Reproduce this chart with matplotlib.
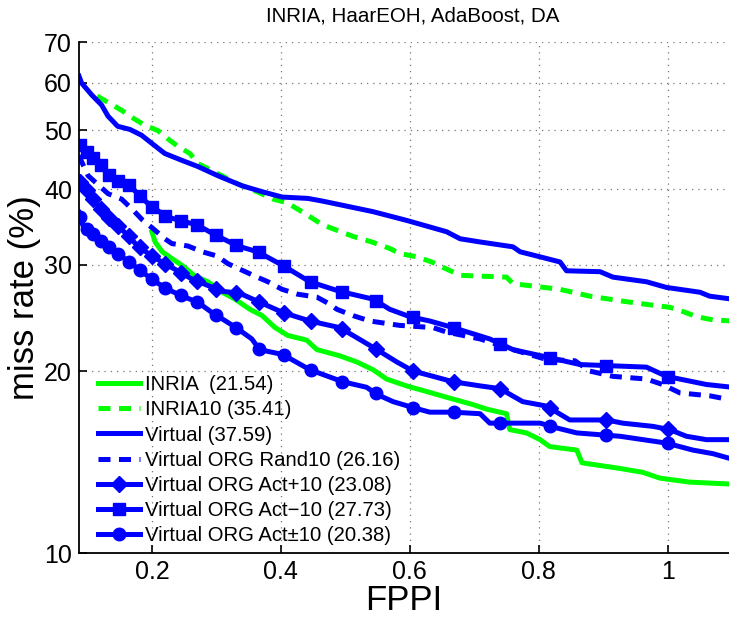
import numpy as np
import matplotlib.pyplot as plt
from matplotlib.lines import Line2D
from matplotlib.ticker import NullLocator

# miss rate (%) vs FPPI
inria_fppi = [0.2, 0.205, 0.216, 0.231, 0.247, 0.267, 0.287, 0.309, 0.329, 0.352, 0.371, 0.391,
              0.411, 0.44, 0.456, 0.491, 0.518, 0.543, 0.564, 0.595, 0.626, 0.657, 0.698, 0.719,
              0.75, 0.755, 0.781, 0.802, 0.817, 0.859, 0.867, 0.926, 0.961, 0.988, 1.034, 1.1]
inria_mr = [34.0, 32.7, 31.5, 30.7, 29.9, 28.7, 28.1, 27.0, 26.3, 25.3, 24.7, 23.6,
            22.9, 22.5, 21.7, 21.2, 20.7, 20.1, 19.4, 18.9, 18.5, 18.1, 17.6, 17.3,
            17.0, 16.0, 15.8, 15.4, 15.0, 14.8, 14.1, 13.8, 13.6, 13.3, 13.1, 13.0]

inria10_fppi = [0.115, 0.153, 0.171, 0.189, 0.209, 0.224, 0.24, 0.259, 0.271, 0.293, 0.31, 0.333,
                0.363, 0.388, 0.409, 0.429, 0.465, 0.512, 0.541, 0.569, 0.584, 0.611, 0.634, 0.651,
                0.678, 0.75, 0.76, 0.833, 0.879, 0.93, 0.977, 1.003, 1.023, 1.045, 1.07, 1.1]
inria10_mr = [57.0, 54.0, 52.4, 51.0, 50.0, 48.5, 47.1, 45.8, 44.1, 42.9, 42.0, 40.8,
              39.6, 38.5, 38.0, 36.9, 34.9, 33.4, 32.7, 31.9, 31.3, 30.9, 30.3, 29.7,
              28.8, 28.6, 27.9, 27.3, 26.6, 26.1, 25.7, 25.5, 25.1, 24.6, 24.3, 24.2]

virtual_fppi = [0.087, 0.091, 0.107, 0.122, 0.132, 0.147, 0.166, 0.184, 0.2, 0.22, 0.247, 0.271,
                0.302, 0.34, 0.371, 0.402, 0.442, 0.465, 0.543, 0.595, 0.657, 0.678, 0.709, 0.76,
                0.771, 0.802, 0.833, 0.843, 0.895, 0.915, 0.967, 0.998, 1.05, 1.065, 1.1]
virtual_mr = [61.5, 59.9, 57.2, 55.1, 52.8, 50.8, 50.2, 49.1, 47.6, 45.8, 44.6, 43.6,
              42.1, 40.5, 39.6, 38.8, 38.6, 38.2, 36.7, 35.5, 34.0, 33.1, 32.7, 32.1,
              31.5, 30.9, 30.3, 29.3, 29.2, 28.6, 28.1, 27.5, 27.0, 26.6, 26.3]

rand10_fppi = [0.087, 0.091, 0.101, 0.132, 0.153, 0.171, 0.186, 0.202, 0.22, 0.231, 0.256, 0.278,
               0.301, 0.318, 0.36, 0.38, 0.402, 0.426, 0.456, 0.476, 0.487, 0.512, 0.538, 0.584,
               0.636, 0.657, 0.709, 0.76, 0.812, 0.856, 0.879, 0.915, 0.967, 0.992, 1.019, 1.065, 1.1]
rand10_mr = [45.5, 44.4, 42.1, 39.3, 38.5, 36.9, 35.5, 34.4, 33.1, 32.5, 32.2, 31.5,
             31.0, 30.1, 28.7, 28.1, 27.3, 26.8, 26.5, 25.8, 25.3, 24.7, 24.2, 23.8,
             23.6, 23.2, 22.6, 21.7, 20.9, 20.8, 20.0, 19.6, 19.4, 19.0, 18.4, 18.2, 17.9]

actp_fppi = [0.087, 0.091, 0.101, 0.116, 0.132, 0.147, 0.163, 0.178, 0.2, 0.22, 0.24, 0.262,
             0.287, 0.309, 0.336, 0.367, 0.403, 0.445, 0.491, 0.512, 0.549, 0.58, 0.605, 0.636,
             0.667, 0.709, 0.74, 0.775, 0.812, 0.848, 0.905, 0.93, 0.977, 1.003, 1.029, 1.06, 1.1]
actp_mr = [41.5, 40.8, 39.6, 37.6, 36.0, 34.8, 33.5, 32.2, 31.0, 30.1, 29.3, 28.4,
           27.7, 27.1, 26.9, 26.0, 25.0, 24.2, 23.6, 22.9, 21.7, 20.7, 20.0, 19.6,
           19.2, 18.9, 18.7, 17.8, 17.5, 16.6, 16.6, 16.4, 16.2, 16.0, 15.6, 15.4, 15.4]

actm_fppi = [0.087, 0.091, 0.104, 0.122, 0.135, 0.147, 0.166, 0.181, 0.197, 0.223, 0.243, 0.27,
             0.298, 0.333, 0.364, 0.403, 0.445, 0.491, 0.543, 0.569, 0.6, 0.631, 0.667, 0.724,
             0.76, 0.812, 0.864, 0.915, 0.967, 0.998, 1.06, 1.1]
actm_mr = [47.5, 47.1, 45.5, 43.8, 42.1, 41.3, 40.5, 39.0, 37.6, 36.0, 35.5, 34.9,
           33.6, 32.2, 31.5, 29.9, 28.1, 27.1, 26.3, 25.3, 24.6, 24.2, 23.6, 22.6,
           21.7, 21.1, 20.5, 20.4, 20.3, 19.6, 19.0, 18.8]

actpm_fppi = [0.087, 0.093, 0.104, 0.124, 0.143, 0.163, 0.181, 0.205, 0.231, 0.251, 0.271, 0.293,
              0.309, 0.333, 0.355, 0.367, 0.403, 0.445, 0.496, 0.533, 0.549, 0.574, 0.605, 0.631,
              0.667, 0.709, 0.724, 0.802, 0.828, 0.859, 0.926, 0.998, 1.039, 1.07, 1.1]
actpm_mr = [36.6, 34.8, 34.0, 32.6, 31.5, 30.4, 29.4, 28.1, 27.1, 26.5, 26.0, 25.0,
            24.4, 23.5, 22.6, 21.7, 21.3, 20.1, 19.2, 18.8, 18.3, 17.8, 17.4, 17.1,
            17.1, 17.0, 16.4, 16.4, 16.1, 15.8, 15.6, 15.2, 14.8, 14.6, 14.3]

# FPPI values where the curve markers sit
marker_fppi = [0.089, 0.099, 0.109, 0.121, 0.134, 0.148, 0.164, 0.181, 0.2, 0.221, 0.245, 0.27,
               0.299, 0.331, 0.366, 0.405, 0.447, 0.495, 0.547, 0.605, 0.669, 0.74, 0.818, 0.905, 1.0]

labels = ['INRIA  (21.54)', 'INRIA10 (35.41)', 'Virtual (37.59)', 'Virtual ORG Rand10 (26.16)',
          'Virtual ORG Act+10 (23.08)', 'Virtual ORG Act\u221210 (27.73)', 'Virtual ORG Act\u00b110 (20.38)']

plt.rcParams['font.family'] = ['Liberation Sans', 'DejaVu Sans']

green = (0, 1, 0)
blue = (0, 0, 1)
lw = 3.6
dash = (2.4, 1.7)

fig = plt.figure(figsize=(7.29, 6.17), dpi=100)
ax = fig.add_axes([0.1084, 0.1037, 0.8916, 0.828])

ax.plot(inria_fppi, inria_mr, color=green, lw=lw)
ax.plot(inria10_fppi, inria10_mr, color=green, lw=lw, ls='--', dashes=dash)
ax.plot(virtual_fppi, virtual_mr, color=blue, lw=lw)
ax.plot(rand10_fppi, rand10_mr, color=blue, lw=lw, ls='--', dashes=dash)

#curves with markers: line + markers placed along it
for xs, ys, mk, ms in [(actp_fppi, actp_mr, 'D', 8), (actm_fppi, actm_mr, 's', 8.5),
                       (actpm_fppi, actpm_mr, 'o', 9)]:
    ax.plot(xs, ys, color=blue, lw=lw)
    my = np.interp(marker_fppi, xs, ys)
    ax.plot(marker_fppi, my, ls='none', marker=mk, ms=ms, color=blue, mec=blue)

handles = [
    Line2D([], [], color=green, lw=lw),
    Line2D([], [], color=green, lw=lw, ls='--', dashes=dash),
    Line2D([], [], color=blue, lw=lw),
    Line2D([], [], color=blue, lw=lw, ls='--', dashes=dash),
    Line2D([], [], color=blue, lw=lw, marker='D', ms=8),
    Line2D([], [], color=blue, lw=lw, marker='s', ms=8.5),
    Line2D([], [], color=blue, lw=lw, marker='o', ms=9),
]
ax.legend(handles, labels, loc='lower left', bbox_to_anchor=(0.016, 0.0), frameon=False,
          fontsize=14.6, handlelength=2.1, handletextpad=0.25, labelspacing=0.3,
          borderaxespad=0, borderpad=0.4, numpoints=1)

ax.set_yscale('log')
ax.set_ylim(10, 70)
ax.set_yticks([10, 20, 30, 40, 50, 60, 70])
ax.set_yticklabels(['10', '20', '30', '40', '50', '60', '70'])
ax.yaxis.set_minor_locator(NullLocator())
ax.set_xlim(0.087, 1.095)
ax.set_xticks([0.2, 0.4, 0.6, 0.8, 1.0])
ax.set_xticklabels(['0.2', '0.4', '0.6', '0.8', '1'])

ax.spines['top'].set_visible(False)
ax.spines['right'].set_visible(False)
ax.spines['left'].set_linewidth(1.3)
ax.spines['bottom'].set_linewidth(1.3)
ax.tick_params(direction='in', length=6, width=1.2, labelsize=18, pad=5)
ax.grid(True, ls=(0, (1, 4)), color='#777777', lw=0.9)

ax.set_title('INRIA, HaarEOH, AdaBoost, DA', fontsize=14.8, pad=15, x=0.514)
ax.set_xlabel('FPPI', fontsize=25, labelpad=0)
ax.set_ylabel('miss rate (%)', fontsize=25, labelpad=2)

fig.savefig('out.png', dpi=100)
